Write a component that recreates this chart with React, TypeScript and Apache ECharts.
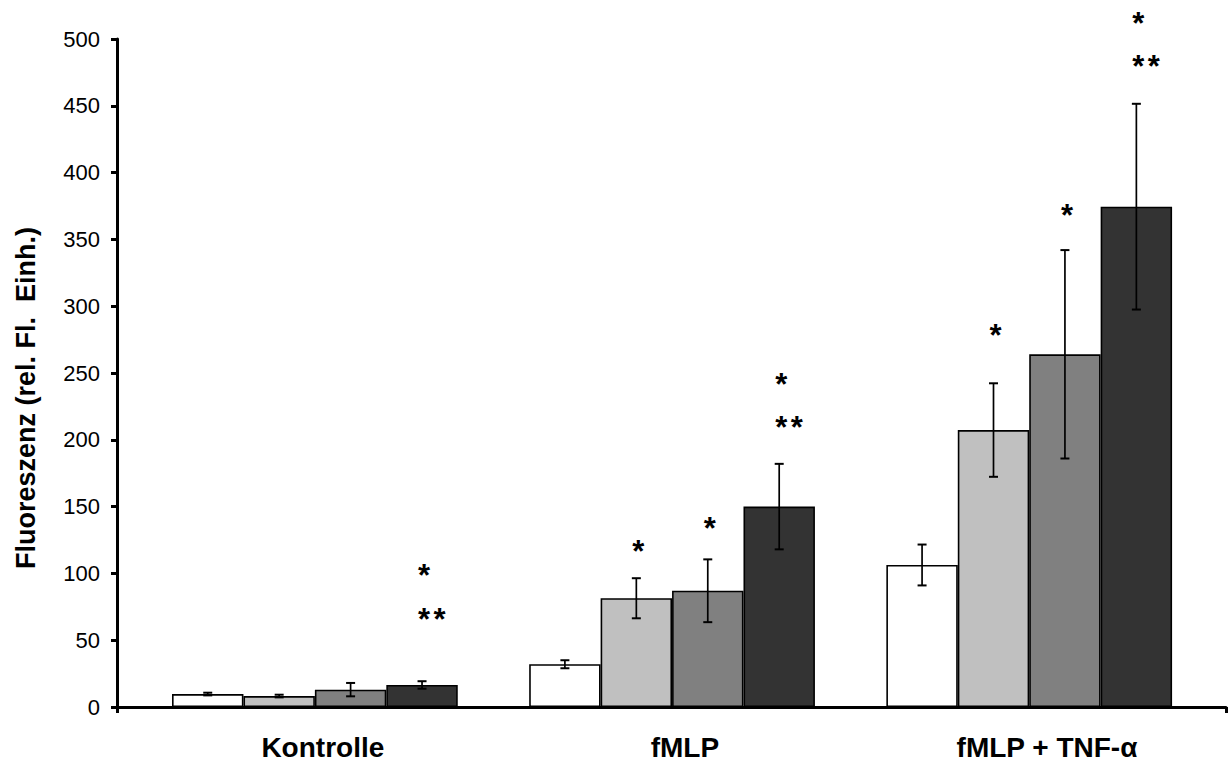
import React, { useEffect, useRef } from "react";
import * as echarts from "echarts";

const categories = ["Kontrolle", "fMLP", "fMLP + TNF-α"];
const seriesNames = ["Gruppe 1", "Gruppe 2", "Gruppe 3", "Gruppe 4"];
const seriesColors = ["#FFFFFF", "#C0C0C0", "#808080", "#333333"];

const values1 = [9.7, 32, 106.3];
const values2 = [8.2, 81.4, 207.3];
const values3 = [13, 87, 264];
const values4 = [16.5, 150, 374.5];

const errors1 = [1, 3, 15.3];
const errors2 = [1, 15, 35];
const errors3 = [5, 23.5, 78];
const errors4 = [2.8, 32, 77];

// significance markers: y level (data units) of "*" and "**" above each bar
const singleStar1: (number | null)[] = [null, null, null];
const singleStar2: (number | null)[] = [null, 121.5, 283];
const singleStar3: (number | null)[] = [null, 139, 373];
const singleStar4: (number | null)[] = [104, 246.8, 517];
const doubleStar4: (number | null)[] = [71, 214.8, 484.5];

const yTicks = { min: 0, max: 500, interval: 50 };

const allValues = [values1, values2, values3, values4];
const allErrors = [errors1, errors2, errors3, errors4];
const allSingle = [singleStar1, singleStar2, singleStar3, singleStar4];
const allDouble: (number | null)[][] = [[null, null, null], [null, null, null], [null, null, null], doubleStar4];

const FONT = "'Liberation Sans', Arial, sans-serif";

export default function App() {
  const ref = useRef<HTMLDivElement>(null);
  useEffect(() => {
    document.body.style.margin = "0";
    if (!ref.current) return;
    const chart = echarts.init(ref.current, null, { renderer: "svg" });

    const barOffset = (i: number, catW: number) => (i - 1.5) * (catW * 0.8) / 4;

    const barSeries = seriesNames.map((name, i) => ({
      name,
      type: "bar",
      xAxisIndex: 0,
      yAxisIndex: 0,
      data: allValues[i],
      barGap: "0%",
      barCategoryGap: "20%",
      itemStyle: { color: seriesColors[i], borderColor: "#000", borderWidth: 1.6 },
      z: 2,
    }));

    const errSeries = seriesNames.map((name, i) => ({
      name: name + " SD",
      type: "custom",
      xAxisIndex: 0,
      yAxisIndex: 0,
      clip: false,
      z: 3,
      data: allValues[i].map((v, c) => [c, v, allErrors[i][c]]),
      renderItem: (params: any, api: any) => {
        const c = api.value(0);
        const v = api.value(1);
        const e = api.value(2);
        const catW = api.size([1, 0])[0];
        const x = api.coord([c, v])[0] + barOffset(i, catW);
        const yt = api.coord([c, v + e])[1];
        const yb = api.coord([c, v - e])[1];
        const cap = 4.5;
        const style = { stroke: "#000", lineWidth: 1.7 };
        return {
          type: "group",
          children: [
            { type: "line", shape: { x1: x, y1: yt, x2: x, y2: yb }, style },
            { type: "line", shape: { x1: x - cap, y1: yt, x2: x + cap, y2: yt }, style: { stroke: "#000", lineWidth: 2 } },
            { type: "line", shape: { x1: x - cap, y1: yb, x2: x + cap, y2: yb }, style: { stroke: "#000", lineWidth: 2 } },
          ],
        };
      },
    }));

    const starData: any[] = [];
    allSingle.forEach((arr, i) =>
      arr.forEach((y, c) => {
        if (y != null) starData.push([c, y, i, 1]);
      })
    );
    allDouble.forEach((arr, i) =>
      arr.forEach((y, c) => {
        if (y != null) starData.push([c, y, i, 2]);
      })
    );

    const starSeries = {
      name: "Signifikanz",
      type: "custom",
      xAxisIndex: 0,
      yAxisIndex: 0,
      clip: false,
      z: 4,
      data: starData,
      renderItem: (params: any, api: any) => {
        const c = api.value(0);
        const y = api.value(1);
        const i = api.value(2);
        const n = api.value(3);
        const catW = api.size([1, 0])[0];
        const p = api.coord([c, y]);
        const x = p[0] + barOffset(i, catW) + 2;
        const children: any[] = [];
        for (let k = 0; k < n; k++) {
          children.push({
            type: "text",
            style: {
              text: "*",
              x: x + k * 15.5,
              y: p[1] + 7,
              align: "center",
              verticalAlign: "middle",
              fontSize: 31,
              fontWeight: "bold",
              fontFamily: FONT,
              fill: "#000",
            },
          });
        }
        return { type: "group", children };
      },
    };

    chart.setOption({
      animation: false,
      backgroundColor: "#fff",
      grid: [
        { left: 136.3, right: 20.2, top: 39, bottom: 62 },
        { left: 117, right: 2, top: 39, bottom: 62 },
        { left: 141.8, width: 1092.9, top: 39, bottom: 62 },
      ],
      xAxis: [
        { gridIndex: 0, type: "category", data: categories, show: false },
        {
          gridIndex: 1,
          type: "value",
          min: 0,
          max: 1,
          interval: 1,
          axisLine: { show: true, lineStyle: { color: "#000", width: 3 } },
          axisTick: { show: true, length: 6, lineStyle: { color: "#000", width: 3 } },
          axisLabel: { show: false },
          splitLine: { show: false },
        },
        {
          gridIndex: 2,
          type: "category",
          data: categories,
          axisLine: { show: false },
          axisTick: { show: false },
          axisLabel: {
            show: true,
            margin: 26,
            fontSize: 28,
            fontWeight: "bold",
            fontFamily: FONT,
            color: "#000",
          },
          splitLine: { show: false },
        },
      ],
      yAxis: [
        { gridIndex: 0, type: "value", min: yTicks.min, max: yTicks.max, interval: yTicks.interval, show: false },
        {
          gridIndex: 1,
          type: "value",
          min: yTicks.min,
          max: yTicks.max,
          interval: yTicks.interval,
          axisLine: { show: true, lineStyle: { color: "#000", width: 3 } },
          axisTick: { show: true, length: 6, lineStyle: { color: "#000", width: 3 } },
          axisLabel: { margin: 17, fontSize: 22, fontFamily: FONT, color: "#000" },
          splitLine: { show: false },
        },
        { gridIndex: 2, type: "value", min: yTicks.min, max: yTicks.max, show: false },
      ],
      graphic: [
        {
          type: "text",
          x: 26,
          y: 398,
          rotation: Math.PI / 2,
          style: {
            text: "Fluoreszenz (rel. Fl.  Einh.)",
            align: "center",
            verticalAlign: "middle",
            fontSize: 27,
            fontWeight: "bold",
            fontFamily: FONT,
            fill: "#000",
          },
        },
      ],
      series: [...barSeries, ...errSeries, starSeries],
    });

    return () => chart.dispose();
  }, []);

  return <div ref={ref} style={{ width: 1228, height: 769 }} />;
}
